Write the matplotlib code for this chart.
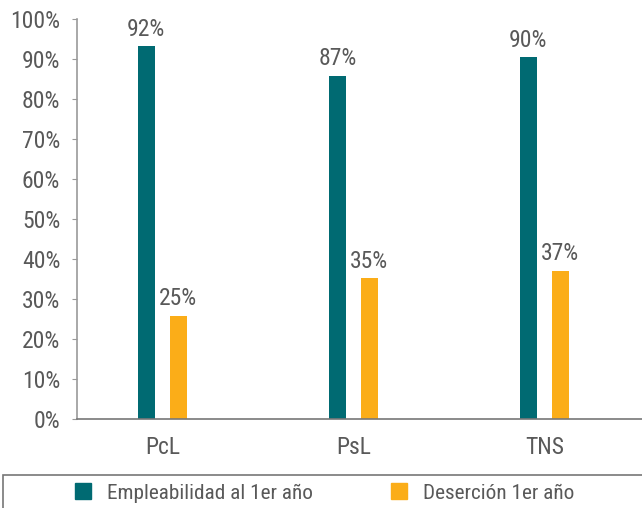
import matplotlib.pyplot as plt
from matplotlib import font_manager
from matplotlib.patches import Rectangle, Patch
import numpy as np

# buscar una fuente estrecha si existe
fuente = "Liberation Sans"
for f in ["Liberation Sans Narrow", "Roboto Condensed", "Open Sans Condensed", "DejaVu Sans Condensed"]:
    try:
        font_manager.findfont(f, fallback_to_default=False)
        fuente = f
        break
    except ValueError:
        pass
plt.rcParams['font.family'] = [fuente, 'DejaVu Sans']

# data
categorias = ["PcL", "PsL", "TNS"]
empleabilidad = [93.2, 85.8, 90.4]
desercion = [25.8, 35.2, 37.0]
etiquetas_emp = ["92%", "87%", "90%"]
etiquetas_des = ["25%", "35%", "37%"]
series = ["Empleabilidad al 1er año", "Deserción 1er año"]

teal = "#006a72"
naranja = "#fbad18"
gris = "#595959"

fig = plt.figure(figsize=(6.42, 5.08), dpi=100)
ax = fig.add_axes([0.1199, 0.1752, 0.8801, 0.7874])

x = np.arange(len(categorias))
ancho = 0.089
off = 0.084
b1 = ax.bar(x - off, empleabilidad, ancho, color=teal)
b2 = ax.bar(x + off, desercion, ancho, color=naranja)

# etiquetas sobre las barras
for barras, etq in [(b1, etiquetas_emp), (b2, etiquetas_des)]:
    for b, t in zip(barras, etq):
        ax.annotate(t, (b.get_x() + b.get_width() / 2, b.get_height()),
                    xytext=(0, 4), textcoords="offset points",
                    ha="center", va="bottom", fontsize=17, color=gris)

ax.set_xlim(-0.447, 2.511)
ax.set_ylim(0, 100)
ax.set_yticks(range(0, 101, 10))
ax.set_yticklabels([f"{v}%" for v in range(0, 101, 10)])
ax.set_xticks(x)
ax.set_xticklabels(categorias)

ax.tick_params(axis="y", length=3.6, color="#999999", labelsize=17,
               labelcolor=gris, pad=8.5)
ax.tick_params(axis="x", length=0, labelsize=17, labelcolor=gris, pad=12)

for s in ["top", "right"]:
    ax.spines[s].set_visible(False)
ax.spines["left"].set_color("#999999")
ax.spines["bottom"].set_color("#777777")
ax.spines["left"].set_linewidth(1.2)
ax.spines["bottom"].set_linewidth(1.2)

# leyenda con recuadro
fig.patches.append(Rectangle((0.0045, -0.1), 1.0, 0.165, transform=fig.transFigure,
                             fill=False, edgecolor="#777777", linewidth=1.2))
handles = [Patch(color=teal), Patch(color=naranja)]
fig.legend(handles, series, loc="center left", bbox_to_anchor=(0.117, 0.0295),
           ncol=2, frameon=False, fontsize=15.3, labelcolor=gris,
           handlelength=0.75, handleheight=0.75, handletextpad=0.75,
           columnspacing=3.67, borderpad=0, borderaxespad=0)

fig.savefig("out.png", dpi=100)
